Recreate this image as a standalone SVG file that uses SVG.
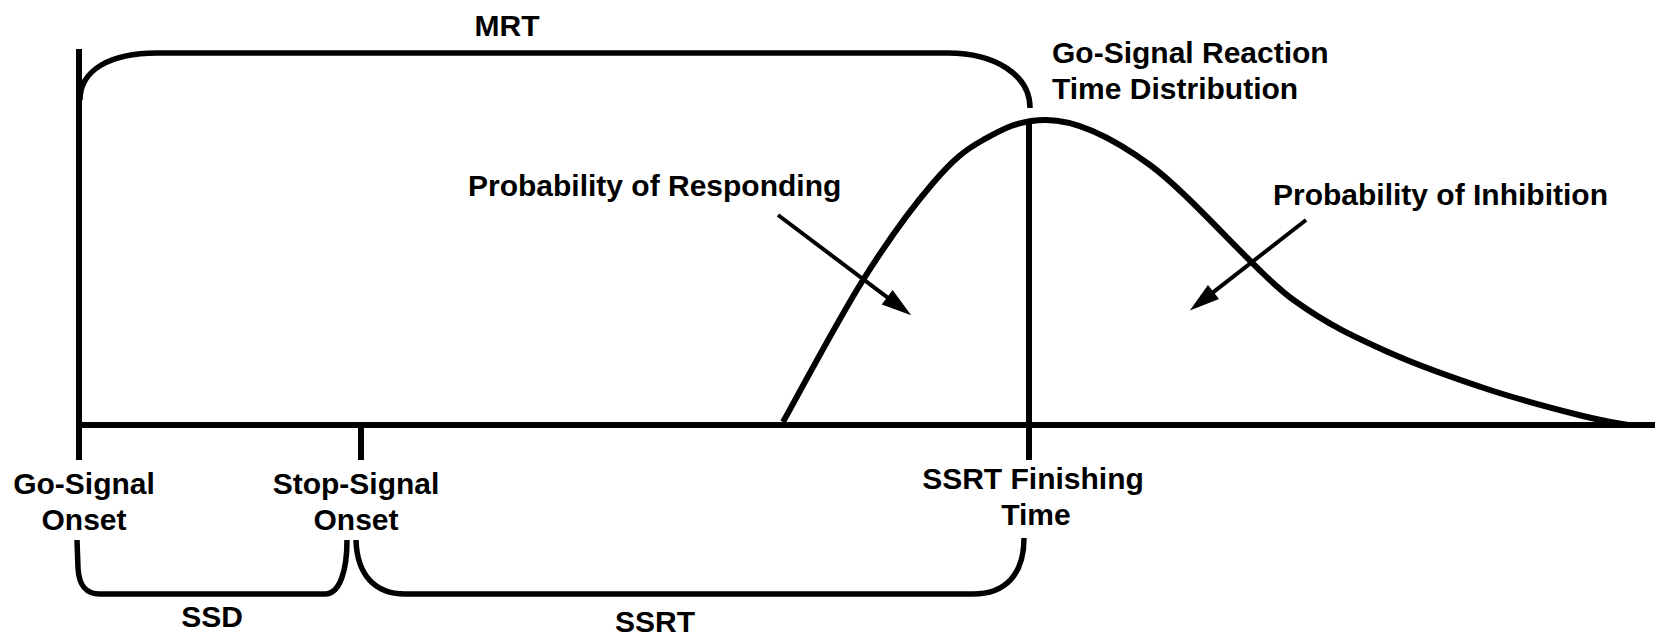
<svg xmlns="http://www.w3.org/2000/svg" width="1665" height="639" viewBox="0 0 1665 639">
  <style>
    .lbl { font-family: "Liberation Sans", Arial, sans-serif; font-weight: bold; font-size: 30px; fill: #000; }
    .mid { text-anchor: middle; }
    .ln { fill: none; stroke: #000; stroke-width: 6; }
    .br { fill: none; stroke: #000; stroke-width: 5.5; }
    .arr { fill: none; stroke: #000; stroke-width: 4; marker-end: url(#head); }
  </style>
  <defs>
    <marker id="head" viewBox="0 -10 32 20" markerWidth="32" markerHeight="20" refX="1" refY="0" markerUnits="userSpaceOnUse" orient="auto" overflow="visible">
      <path d="M0,-9 L30,0 L0,9 z" fill="#000"/>
    </marker>
  </defs>
  <rect width="1665" height="639" fill="#fff"/>

  <g id="connectors">
    <!-- axis -->
    <path class="ln" d="M76,425 L1655,425"/>
    <!-- go-signal onset line -->
    <path class="ln" d="M79,49 L79,460"/>
    <!-- stop-signal tick -->
    <path class="ln" d="M361,425 L361,460"/>
    <!-- SSRT finishing line -->
    <path class="ln" d="M1029,121 L1029,460"/>
    <!-- MRT bracket -->
    <path class="br" d="M80,100 C80,70 110,53 157,53 L948,53 C995,53 1030,75 1030,108"/>
    <!-- SSD bracket -->
    <path class="br" d="M77,540 L78,568 C79,586 86,594 100,594 L325,594 C340,594 347,570 347,540"/>
    <!-- SSRT bracket -->
    <path class="br" d="M356,540 C357,575 375,594 405,594 L973,594 C1005,594 1024,575 1024,538"/>
    <!-- go-signal RT distribution curve -->
    <path class="ln" d="M783,422 C796.3,398.3 838,319.8 863,280 C888,240.2 913,206.3 933,183 C953,159.7 964.2,150.5 983,140 C1001.8,129.5 1018,120 1046,120 C1074,120 1108.2,134.5 1150,165 C1191.8,195.5 1258,275 1295,301 C1330,326 1355.8,337.5 1388,352 C1420.2,366.5 1457.5,379.3 1490,390 C1522.5,400.7 1560,410.2 1583,416 C1606,421.8 1620.5,423.5 1628,425"/>
    <!-- arrows -->
    <path class="arr" d="M778,215 L888,297.9"/>
    <path class="arr" d="M1306,220 L1212.7,292.6"/>
  </g>

  <g id="mrt"><text class="lbl mid" x="507" y="36">MRT</text></g>
  <g id="go-rt-dist">
    <text class="lbl" x="1052" y="63">Go-Signal Reaction</text>
    <text class="lbl" x="1052" y="99">Time Distribution</text>
  </g>
  <g id="p-respond"><text class="lbl" x="468" y="196">Probability of Responding</text></g>
  <g id="p-inhibit"><text class="lbl" x="1273" y="205">Probability of Inhibition</text></g>
  <g id="go-onset">
    <text class="lbl mid" x="84" y="494">Go-Signal</text>
    <text class="lbl mid" x="84" y="530">Onset</text>
  </g>
  <g id="stop-onset">
    <text class="lbl mid" x="356" y="494">Stop-Signal</text>
    <text class="lbl mid" x="356" y="530">Onset</text>
  </g>
  <g id="ssrt-finish">
    <text class="lbl mid" x="1033" y="489">SSRT Finishing</text>
    <text class="lbl mid" x="1036" y="525">Time</text>
  </g>
  <g id="ssd"><text class="lbl mid" x="212" y="627">SSD</text></g>
  <g id="ssrt"><text class="lbl mid" x="655" y="632">SSRT</text></g>
</svg>
